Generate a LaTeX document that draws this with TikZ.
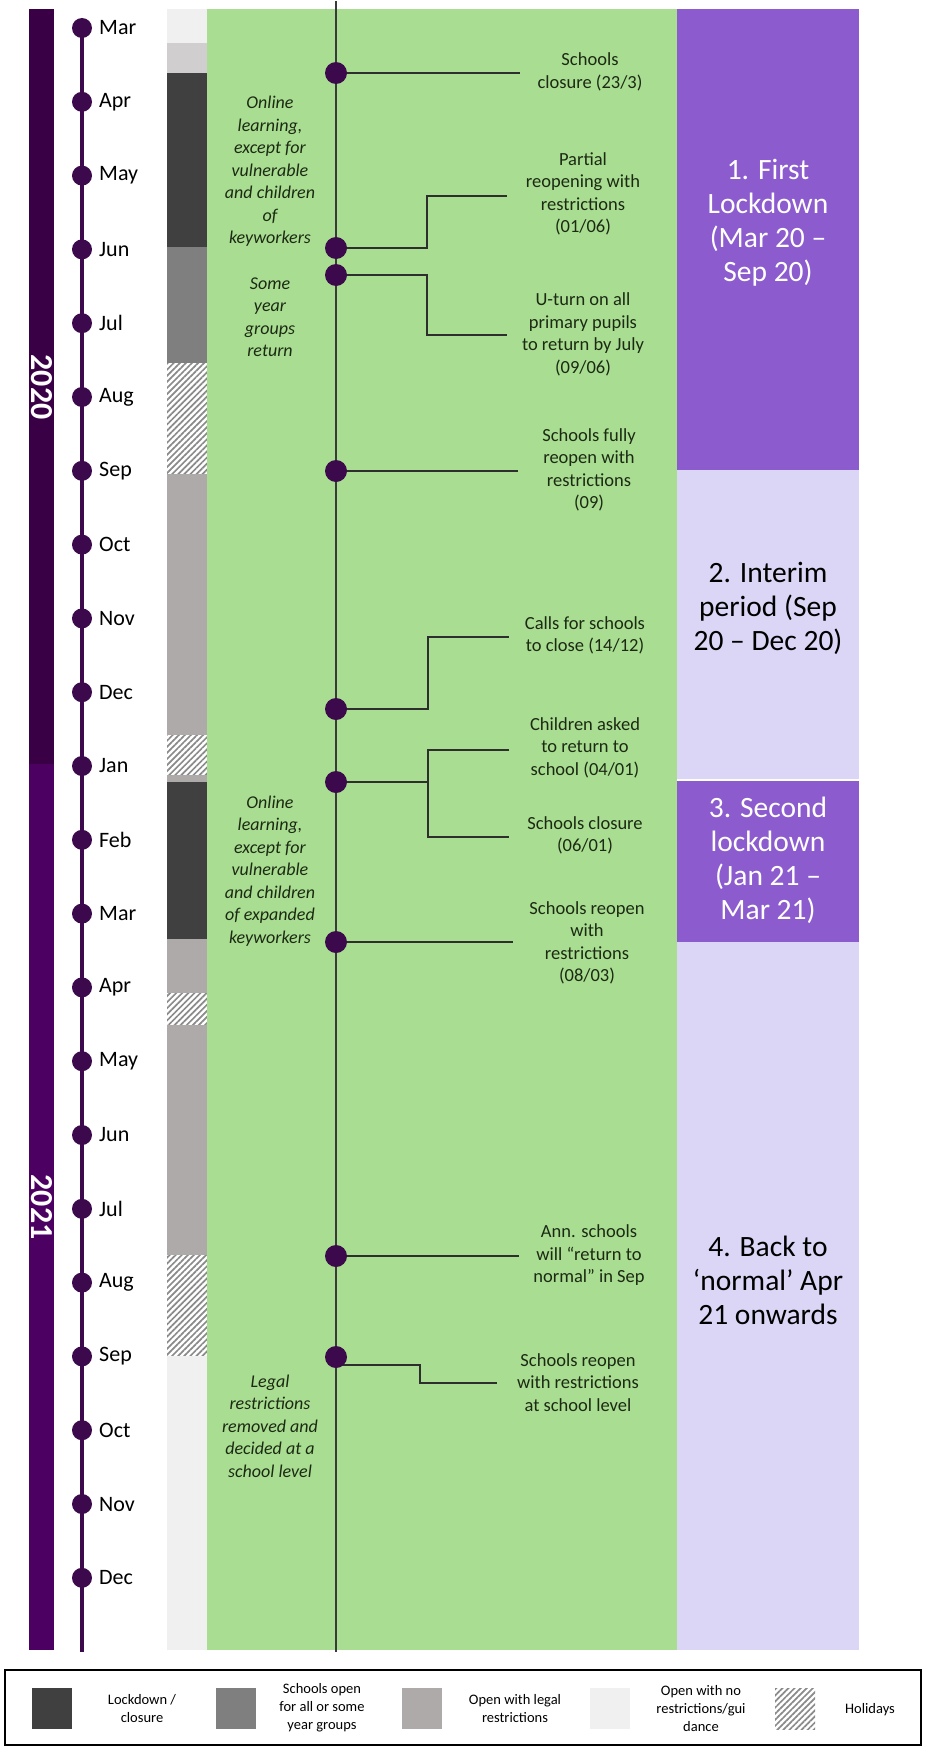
\documentclass[tikz,border=0pt]{standalone}
\usepackage{fontspec}
\setmainfont{Carlito}
\usetikzlibrary{patterns.meta,calc}
\pgfdeclarelayer{back}
\pgfdeclarelayer{mid}
\pgfsetlayers{back,mid,main}

\definecolor{yearA}{HTML}{3A0046}
\definecolor{yearB}{HTML}{4C0061}
\definecolor{dotc}{HTML}{3C0A4C}
\definecolor{lock}{HTML}{404040}
\definecolor{part}{HTML}{7F7F7F}
\definecolor{legal}{HTML}{AEAAAA}
\definecolor{legalL}{HTML}{D0CECE}
\definecolor{free}{HTML}{F0F0F0}
\definecolor{hatchc}{HTML}{8A8A8A}
\definecolor{panelgreen}{HTML}{A9DD91}
\definecolor{phasedark}{HTML}{8C5CCF}
\definecolor{phaselight}{HTML}{DCD6F6}
\definecolor{evtext}{HTML}{1C2A14}
\definecolor{connc}{HTML}{2E2E2E}
\definecolor{axisc}{HTML}{3A3A3A}

\tikzset{
  monthdot/.style={circle, fill=dotc, inner sep=0pt, minimum size=20pt},
  eventdot/.style={circle, fill=dotc, inner sep=0pt, minimum size=22pt},
  monthlbl/.style={anchor=west, inner sep=0pt, font=\fontsize{22}{26}\selectfont, text=black},
  yeartxt/.style={inner sep=0pt, text=white, font=\bfseries\fontsize{32}{32}\selectfont},
  evtxt/.style={align=center, inner sep=0pt, font=\fontsize{18.5}{22.5}\selectfont, text=evtext},
  notetxt/.style={align=center, inner sep=0pt, font=\itshape\fontsize{18}{22.5}\selectfont, text=evtext},
  phasetxt/.style={align=center, inner sep=0pt, font=\fontsize{29.5}{34}\selectfont},
  legtxt/.style={align=center, inner sep=0pt, font=\fontsize{14.5}{18}\selectfont, text=black},
  conn/.style={draw=connc, line width=1.4pt},
  axisline/.style={draw=axisc, line width=1.5pt},
  monthline/.style={draw=dotc, line width=3.5pt},
  hatch/.style={fill=white, postaction={pattern={Lines[angle=45,distance=4.3pt,line width=1.7pt]}, pattern color=hatchc}},
  swatch/.style={minimum width=40pt, minimum height=41pt, inner sep=0pt},
}

\begin{document}
\begin{tikzpicture}[x=1pt,y=-1pt]
\useasboundingbox (0,0) rectangle (928,1753);

% ---------- background panels ----------
\begin{pgfonlayer}{back}
  \fill[white] (0,0) rectangle (928,1753);
  % year bars
  \fill[yearA] (29,9) rectangle (54,764);
  \fill[yearB] (29,764) rectangle (54,1650);
  % school status column
  \fill[free]   (167,9)    rectangle (207,43);
  \fill[legalL] (167,43)   rectangle (207,73);
  \fill[lock]   (167,73)   rectangle (207,247);
  \fill[part]   (167,247)  rectangle (207,363);
  \path[hatch]  (167,363)  rectangle (207,474);
  \fill[legal]  (167,474)  rectangle (207,735);
  \path[hatch]  (167,735)  rectangle (207,775);
  \fill[legal]  (167,775)  rectangle (207,782);
  \fill[lock]   (167,782)  rectangle (207,939);
  \fill[legal]  (167,939)  rectangle (207,993);
  \path[hatch]  (167,993)  rectangle (207,1025);
  \fill[legal]  (167,1025) rectangle (207,1255);
  \path[hatch]  (167,1255) rectangle (207,1356);
  \fill[free]   (167,1356) rectangle (207,1650);
  % event panel
  \fill[panelgreen] (207,9) rectangle (677,1650);
  % phase column
  \fill[phasedark]  (677,9)   rectangle (859,470);
  \fill[phaselight] (677,470) rectangle (859,779);
  \fill[phasedark]  (677,781) rectangle (859,942);
  \fill[phaselight] (677,942) rectangle (859,1650);
\end{pgfonlayer}

% ---------- year labels ----------
\node[yeartxt, rotate=-90] (y2020) at (41.5,387) {2020};
\node[yeartxt, rotate=-90] (y2021) at (41.5,1207) {2021};

% ---------- months ----------
\foreach \m [count=\i from 0] in {Mar,Apr,May,Jun,Jul,Aug,Sep,Oct,Nov,Dec,Jan,Feb,Mar,Apr,May,Jun,Jul,Aug,Sep,Oct,Nov,Dec} {
  \node[monthdot] (m\i) at (82,{28+73.8*\i}) {};
  \node[monthlbl] (ml\i) at (99,{28+73.8*\i}) {\m};
}
\coordinate (mbot) at (82,1652);

% ---------- event axis ----------
\coordinate (axtop) at (336,1);
\coordinate (axbot) at (336,1652);

\node[eventdot] (d1) at (336,73) {};
\node[eventdot] (d2) at (336,248) {};
\node[eventdot] (d3) at (336,275) {};
\node[eventdot] (d4) at (336,471) {};
\node[eventdot] (d5) at (336,709) {};
\node[eventdot] (d6) at (336,782) {};
\node[eventdot] (d7) at (336,942) {};
\node[eventdot] (d8) at (336,1256) {};
\node[eventdot] (d9) at (336,1357) {};

\coordinate (c1) at (520,73);
\coordinate (c2) at (507,196);
\coordinate (c3) at (507,335);
\coordinate (c4) at (518,471);
\coordinate (c5) at (509,637);
\coordinate (j6) at (428,782);
\coordinate (c6a) at (509,750);
\coordinate (c6b) at (509,837);
\coordinate (c7) at (513,942);
\coordinate (c8) at (519,1256);
\coordinate (c9) at (497,1383);

\begin{pgfonlayer}{mid}
  \draw[monthline] (m0.center) -- (mbot);
  \draw[axisline] (axtop) -- (axbot);
  \draw[conn] (d1.center) -- (c1);
  \draw[conn] (d2.center) -| ($(c2)+(-80,0)$) -- (c2);
  \draw[conn] (d3.center) -| ($(c3)+(-80,0)$) -- (c3);
  \draw[conn] (d4.center) -- (c4);
  \draw[conn] (d5.center) -| ($(c5)+(-81,0)$) -- (c5);
  \draw[conn] (d6.center) -- (j6);
  \draw[conn] (c6a) -| (j6) |- (c6b);
  \draw[conn] (d7.center) -- (c7);
  \draw[conn] (d8.center) -- (c8);
  \draw[conn] ($(d9.center)+(0,8)$) -| ($(c9)+(-77,0)$) -- (c9);
\end{pgfonlayer}

% ---------- event texts ----------
\node[evtxt] (t1) at (590,72) {Schools\\closure (23/3)};
\node[evtxt] (t2) at (583,194) {Partial\\reopening with\\restrictions\\(01/06)};
\node[evtxt] (t3) at (583,334.5) {U-turn on all\\primary pupils\\to return by July\\(09/06)};
\node[evtxt] (t4) at (589,470) {Schools fully\\reopen with\\restrictions\\(09)};
\node[evtxt] (t5) at (585,635.5) {Calls for schools\\to close (14/12)};
\node[evtxt] (t6a) at (585,747.5) {Children asked\\to return to\\school (04/01)};
\node[evtxt] (t6b) at (585,835.5) {Schools closure\\(06/01)};
\node[evtxt] (t7) at (587,943) {Schools reopen\\with\\restrictions\\(08/03)};
\node[evtxt] (t8) at (589,1255.5) {Ann. schools\\will “return to\\normal” in Sep};
\node[evtxt] (t9) at (578,1382.5) {Schools reopen\\with restrictions\\at school level};

% ---------- notes on school status ----------
\node[notetxt] (n1) at (270,171.5) {Online\\learning,\\except for\\vulnerable\\and children\\of\\keyworkers};
\node[notetxt] (n2) at (270,317) {Some\\year\\groups\\return};
\node[notetxt] (n3) at (270,871) {Online\\learning,\\except for\\vulnerable\\and children\\of expanded\\keyworkers};
\node[notetxt] (n4) at (270,1426) {Legal\\restrictions\\removed and\\decided at a\\school level};

% ---------- phases ----------
\node[phasetxt, text=white] (p1) at (768,223) {1. First\\Lockdown\\(Mar 20 –\\Sep 20)};
\node[phasetxt, text=black] (p2) at (768,608) {2. Interim\\period (Sep\\20 – Dec 20)};
\node[phasetxt, text=white] (p3) at (768,860) {3. Second\\lockdown\\(Jan 21 –\\Mar 21)};
\node[phasetxt, text=black] (p4) at (768,1280) {4. Back to\\‘normal’ Apr\\21 onwards};

% ---------- legend ----------
\node[draw=black, line width=1.5pt, minimum width=916pt, minimum height=75pt, inner sep=0pt] (legend) at (463,1707.5) {};
\node[swatch, fill=lock]  (s1) at (52,1708.5) {};
\node[legtxt] (l1) at (142,1708) {Lockdown /\\closure};
\node[swatch, fill=part]  (s2) at (236,1708.5) {};
\node[legtxt] (l2) at (322,1708) {Schools open\\for all or some\\year groups};
\node[swatch, fill=legal] (s3) at (421.5,1708.5) {};
\node[legtxt] (l3) at (515,1708) {Open with legal\\restrictions};
\node[swatch, fill=free]  (s4) at (610,1708.5) {};
\node[legtxt] (l4) at (701,1708) {Open with no\\restrictions/gui\\dance};
\node[swatch, hatch]      (s5) at (795,1708.5) {};
\node[legtxt] (l5) at (870,1710) {Holidays};

\end{tikzpicture}
\end{document}
